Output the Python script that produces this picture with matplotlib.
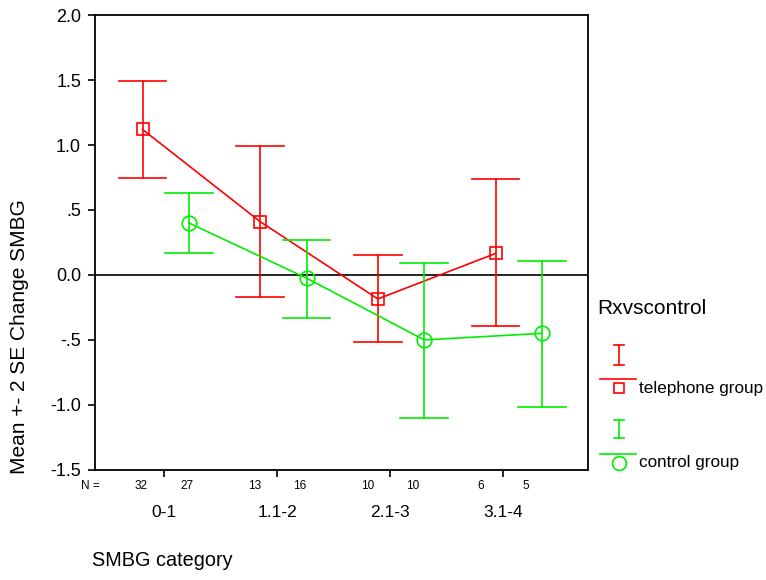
import matplotlib.pyplot as plt
import numpy as np

plt.rcParams['font.family'] = ['Liberation Sans', 'DejaVu Sans']

categorias = ['0-1', '1.1-2', '2.1-3', '3.1-4']
n_tel = [32, 13, 10, 6]
n_ctl = [27, 16, 10, 5]

# média e limites +- 2 EP
tel_media = [1.12, 0.41, -0.185, 0.165]
tel_sup = [1.495, 0.995, 0.155, 0.74]
tel_inf = [0.745, -0.17, -0.515, -0.39]

ctl_media = [0.40, -0.025, -0.50, -0.45]
ctl_sup = [0.63, 0.265, 0.095, 0.11]
ctl_inf = [0.17, -0.33, -1.105, -1.015]

VERMELHO = '#ff0000'
VERDE = '#00ee00'

fig = plt.figure(figsize=(7.66, 5.8), dpi=100)
ax = fig.add_axes([0.124, 0.19, 0.644, 0.784])

idx = np.arange(len(categorias))
centros = 0.015 + 1.04 * idx
desloc = 0.205
cap = 0.21


def serie(x, media, sup, inf, cor, marcador, tam):
    ax.plot(x, media, color=cor, lw=1.2, zorder=3)
    for xi, s, i in zip(x, sup, inf):
        ax.plot([xi, xi], [i, s], color=cor, lw=1.2, zorder=3)
        ax.plot([xi - cap, xi + cap], [s, s], color=cor, lw=1.2, zorder=3)
        ax.plot([xi - cap, xi + cap], [i, i], color=cor, lw=1.2, zorder=3)
    ax.plot(x, media, ls='none', marker=marcador, ms=tam, mfc='none',
            mec=cor, mew=1.2, zorder=4)


ax.axhline(0, color='black', lw=1.2, zorder=2)
serie(centros - desloc, tel_media, tel_sup, tel_inf, VERMELHO, 's', 8)
serie(centros + desloc, ctl_media, ctl_sup, ctl_inf, VERDE, 'o', 10.5)

ax.set_xlim(-0.61, 3.75)
ax.set_ylim(-1.5, 2.0)
ax.set_yticks([2.0, 1.5, 1.0, 0.5, 0.0, -0.5, -1.0, -1.5])
ax.set_yticklabels(['2.0', '1.5', '1.0', '.5', '0.0', '-.5', '-1.0', '-1.5'], fontsize=13)
ax.set_xticks(idx)
ax.set_xticklabels([])
ax.tick_params(axis='both', direction='out', length=5, width=1.2, colors='black')
ax.tick_params(axis='y', pad=5)
for s in ax.spines.values():
    s.set_linewidth(1.3)

# contagens N abaixo do eixo
for i in idx:
    ax.text(i - 0.2, -1.628, str(n_tel[i]), ha='center', va='center', fontsize=8.5)
    ax.text(i + 0.2, -1.628, str(n_ctl[i]), ha='center', va='center', fontsize=8.5)
    ax.text(i, -1.83, categorias[i], ha='center', va='center', fontsize=12.5)
ax.text(-0.57, -1.628, 'N =', ha='right', va='center', fontsize=8.5)

fig.text(20 / 766, 1 - 337 / 580, 'Mean +- 2 SE Change SMBG', fontsize=15,
         rotation=90, ha='center', va='center')
fig.text(92 / 766, 1 - 561 / 580, 'SMBG category', fontsize=14.3, ha='left', va='center')

# legenda desenhada à mão
fig.text(597 / 766, 1 - 308 / 580, 'Rxvscontrol', fontsize=15, ha='left', va='center')


def px(x, y):
    return x / 766, 1 - y / 580


for cor, y0, alt, marcador, tam, rot in [(VERMELHO, 345, 20, 's', 7.5, 'telephone group'),
                                        (VERDE, 420, 18, 'o', 10, 'control group')]:
    xs, ys = zip(px(619, y0), px(619, y0 + alt))
    fig.add_artist(plt.Line2D(xs, ys, color=cor, lw=1.2))
    for yy in (y0, y0 + alt):
        xs, ys = zip(px(614, yy), px(624, yy))
        fig.add_artist(plt.Line2D(xs, ys, color=cor, lw=1.2))
    xs, ys = zip(px(600, y0 + 34), px(636, y0 + 34))
    fig.add_artist(plt.Line2D(xs, ys, color=cor, lw=1.2))
    fx, fy = px(619, y0 + 43)
    fig.add_artist(plt.Line2D([fx], [fy], marker=marcador, ms=tam, mfc='none',
                              mec=cor, mew=1.2, ls='none'))
    fig.text(639 / 766, fy, rot, fontsize=12.3, ha='left', va='center')

plt.savefig('out.png', dpi=100)
plt.close()
